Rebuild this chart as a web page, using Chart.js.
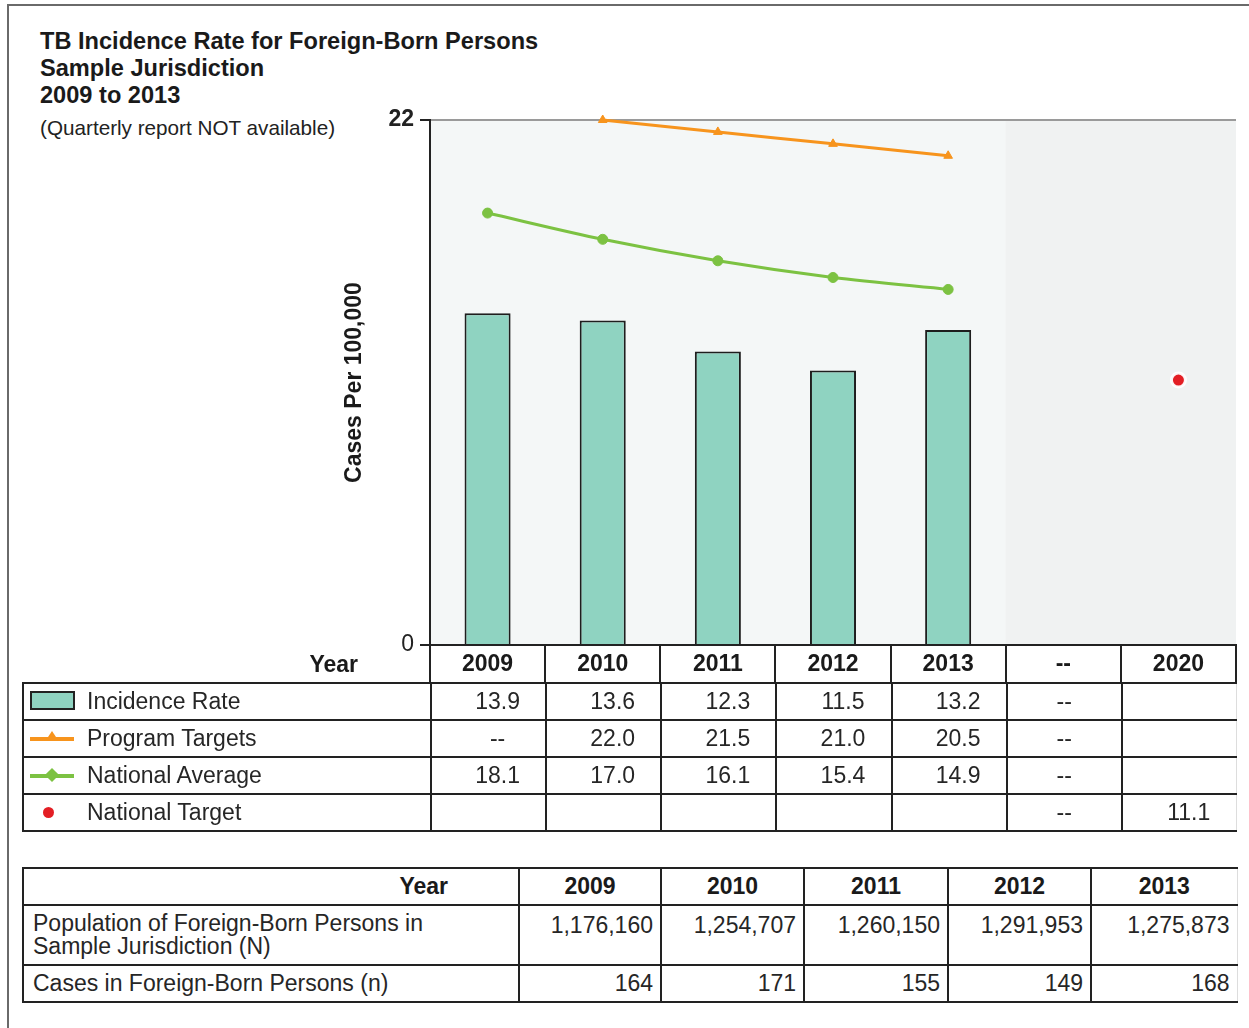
<!DOCTYPE html>
<html><head><meta charset="utf-8">
<script src="https://cdn.jsdelivr.net/npm/chart.js@4.4.1/dist/chart.umd.min.js"></script>
<style>
html,body{margin:0;padding:0;background:#fff;}
body{width:1249px;height:1028px;position:relative;overflow:hidden;font-family:"Liberation Sans",Arial,sans-serif;color:#222;}
#frameTop{position:absolute;left:7px;top:4px;width:1242px;height:0;border-top:2px solid #6a6a6a;}
#frameLeft{position:absolute;left:7px;top:4px;width:0;height:1030px;border-left:2px solid #6a6a6a;}
#title{position:absolute;left:40px;top:28px;font-weight:bold;font-size:23.6px;line-height:27px;color:#1a1a1a;white-space:nowrap;}
#subtitle{position:absolute;left:40px;top:115px;font-size:20.7px;line-height:26px;color:#222;white-space:nowrap;}
#chartBox{position:absolute;left:300px;top:100px;width:946px;height:583px;}
#yearLbl{position:absolute;left:0;width:358px;top:645px;height:38px;line-height:38px;text-align:right;font-weight:bold;font-size:23px;color:#1a1a1a;}
table{border-collapse:collapse;table-layout:fixed;position:absolute;font-size:23px;color:#262626;}
td{padding:0;white-space:nowrap;overflow:hidden;}
#t1{left:22px;top:682px;}
#t1 td{height:35px;border-top:2px solid #222;border-bottom:2px solid #222;border-left:2px solid #222;text-align:center;}
#t1 td.lab{text-align:left;padding-left:6px;}
#t1 td.num{padding-left:18px;}
#t1 td.last{border-right:1px solid #ddd;}
#t2{left:22px;top:867px;}
#t2 td{border:2px solid #222;text-align:right;padding-right:7px;}
#t2 td.last{border-right:1px solid #ddd;}
#t2 tr.hdr td{height:35px;text-align:center;font-weight:bold;padding-right:0;color:#1a1a1a;}
#t2 tr.hdr td.lab{text-align:right;padding-right:70px;}
#t2 td.lab{text-align:left;padding-left:9px;line-height:23px;}
#t2 tr.pop td{height:52px;vertical-align:top;padding-top:6px;}
#t2 tr.cas td{height:35px;}
.sw{display:inline-block;position:relative;width:45px;height:20px;vertical-align:middle;margin-right:12px;top:-2px;}
.sw .rect{position:absolute;left:0;top:0;width:41px;height:15px;border:2px solid #222;background:#8fd3c1;}
.sw .ln{position:absolute;left:0;top:9px;width:44px;height:4px;}
.sw .tri{position:absolute;left:16px;top:3px;width:0;height:0;border-left:6px solid transparent;border-right:6px solid transparent;border-bottom:9px solid #f7941d;}
.sw .dia{position:absolute;left:17px;top:5px;width:10px;height:10px;transform:rotate(45deg);background:#7cc242;}
.sw .dot{position:absolute;left:13px;top:5px;width:11px;height:11px;border-radius:50%;background:#e31e24;}
</style></head>
<body>
<div id="frameTop"></div><div id="frameLeft"></div>
<div id="title">TB Incidence Rate for Foreign-Born Persons<br>Sample Jurisdiction<br>2009 to 2013</div>
<div id="subtitle">(Quarterly report NOT available)</div>
<div id="chartBox"><canvas id="c" width="946" height="583"></canvas></div>
<div id="yearLbl">Year</div>
<table id="t1"></table>
<table id="t2"></table>
<script>
// ---- data ----
const categories = ['2009', '2010', '2011', '2012', '2013', '--', '2020'];
const incidenceRate = [13.9, 13.6, 12.3, 11.5, 13.2, null, null];
const programTargets = [null, 22.0, 21.5, 21.0, 20.5, null, null];
const nationalAverage = [18.1, 17.0, 16.1, 15.4, 14.9, null, null];
const nationalTarget = [null, null, null, null, null, null, 11.1];
const yTicks = [0, 22];

const popYears = ['2009', '2010', '2011', '2012', '2013'];
const populationN = ['1,176,160', '1,254,707', '1,260,150', '1,291,953', '1,275,873'];
const casesN = ['164', '171', '155', '149', '168'];

const FONT = '"Liberation Sans", Arial, sans-serif';

const bgPlugin = {
  id: 'plotBg',
  beforeDraw(chart) {
    const {ctx, chartArea: a, scales} = chart;
    ctx.save();
    ctx.fillStyle = '#f4f7f7';
    ctx.fillRect(a.left, a.top, a.right - a.left, a.bottom - a.top);
    const x = scales.x;
    const half = (x.getPixelForValue(1) - x.getPixelForValue(0)) / 2;
    const gx = x.getPixelForValue(5) - half;
    ctx.fillStyle = '#f0f2f2';
    ctx.fillRect(gx, a.top, a.right - gx, a.bottom - a.top);
    ctx.restore();
  }
};

const chart = new Chart(document.getElementById('c'), {
  type: 'bar',
  data: {
    labels: categories,
    datasets: [
      { type: 'line', label: 'Program Targets', data: programTargets, borderColor: '#f7941d', backgroundColor: '#f7941d',
        borderWidth: 3, pointStyle: 'triangle', pointRadius: 5, pointBorderWidth: 1, tension: 0.3, clip: false, order: 0, spanGaps: false },
      { type: 'line', label: 'National Average', data: nationalAverage, borderColor: '#7cc242', backgroundColor: '#7cc242',
        borderWidth: 3, pointStyle: 'circle', pointRadius: 5, pointBorderWidth: 1, tension: 0.3, clip: false, order: 0 },
      { type: 'line', label: 'National Target', data: nationalTarget, showLine: false, borderColor: 'rgba(255,255,255,0.95)',
        backgroundColor: '#e31e24', pointRadius: 7, pointBorderWidth: 3, clip: false, order: 0 },
      { type: 'bar', label: 'Incidence Rate', data: incidenceRate, backgroundColor: '#8fd3c1', borderColor: '#1e1e1e',
        borderWidth: 2, categoryPercentage: 0.8, barPercentage: 0.5, order: 1 }
    ]
  },
  options: {
    responsive: false,
    animation: false,
    devicePixelRatio: 1,
    layout: { padding: { left: 0, right: 4, top: 20, bottom: 0 } },
    plugins: { legend: { display: false }, tooltip: { enabled: false } },
    scales: {
      x: {
        type: 'category',
        offset: true,
        grid: { offset: true, drawOnChartArea: false, drawTicks: true, tickLength: 38, color: '#222', lineWidth: 2 },
        border: { display: true, color: '#222', width: 2 },
        ticks: { color: '#1a1a1a', padding: -32, font: { family: FONT, size: 23, weight: 'bold' } },
        afterFit(s) { s.height = 38; }
      },
      y: {
        min: 0, max: 22,
        afterBuildTicks(s) { s.ticks = yTicks.map(v => ({ value: v })); },
        grid: { drawOnChartArea: true, drawTicks: true, tickLength: 10, lineWidth: 2,
                color: ctx => (ctx.tick && ctx.tick.value === 22) ? '#9a9a9a' : 'rgba(0,0,0,0)',
                tickColor: '#222' },
        border: { display: true, color: '#222', width: 2 },
        ticks: { color: '#222', padding: 6,
                 font: ctx => ({ family: FONT, size: 23, weight: (ctx.tick && ctx.tick.value === 22) ? 'bold' : 'normal' }) },
        title: { display: true, text: 'Cases Per 100,000', color: '#1a1a1a', padding: { top: 41, bottom: 0 },
                 font: { family: FONT, size: 23, weight: 'bold' } },
        afterFit(s) { s.width = 130; }
      }
    }
  },
  plugins: [bgPlugin]
});

// ---- tables ----
const area = chart.chartArea;
const colW = (area.right - area.left) / categories.length;
const labW = 300 + area.left - 22;

const seriesRows = [
  { name: 'Incidence Rate', data: incidenceRate, sw: '<span class="sw"><span class="rect"></span></span>', gap: '--' },
  { name: 'Program Targets', data: programTargets, sw: '<span class="sw"><span class="ln" style="background:#f7941d"></span><span class="tri"></span></span>', gap: '--' },
  { name: 'National Average', data: nationalAverage, sw: '<span class="sw"><span class="ln" style="background:#7cc242"></span><span class="dia"></span></span>', gap: '' },
  { name: 'National Target', data: nationalTarget, sw: '<span class="sw"><span class="dot"></span></span>', gap: '' }
];
let h1 = '<colgroup><col style="width:' + labW + 'px">';
categories.forEach(() => { h1 += '<col style="width:' + colW + 'px">'; });
h1 += '</colgroup>';
seriesRows.forEach(r => {
  h1 += '<tr><td class="lab">' + r.sw + r.name + '</td>';
  categories.forEach((c, i) => {
    const v = r.data[i];
    let txt;
    if (c === '--') txt = '--';
    else if (v === null) txt = (c === '2020') ? '' : r.gap;
    else txt = v.toFixed(1);
    const cls = (c === '--' ? '' : 'num') + (i === categories.length - 1 ? ' last' : '');
    h1 += '<td class="' + cls + '">' + txt + '</td>';
  });
  h1 += '</tr>';
});
document.getElementById('t1').innerHTML = h1;

const w2 = [496, 142, 143, 144, 143, 146];
let h2 = '<colgroup>' + w2.map(w => '<col style="width:' + w + 'px">').join('') + '</colgroup>';
h2 += '<tr class="hdr"><td class="lab">Year</td>' + popYears.map((y, i) => '<td' + (i === popYears.length - 1 ? ' class="last"' : '') + '>' + y + '</td>').join('') + '</tr>';
h2 += '<tr class="pop"><td class="lab">Population of Foreign-Born Persons in<br>Sample Jurisdiction (N)</td>' + populationN.map((v, i) => '<td' + (i === populationN.length - 1 ? ' class="last"' : '') + '>' + v + '</td>').join('') + '</tr>';
h2 += '<tr class="cas"><td class="lab">Cases in Foreign-Born Persons (n)</td>' + casesN.map((v, i) => '<td' + (i === casesN.length - 1 ? ' class="last"' : '') + '>' + v + '</td>').join('') + '</tr>';
document.getElementById('t2').innerHTML = h2;
</script>
</body></html>
